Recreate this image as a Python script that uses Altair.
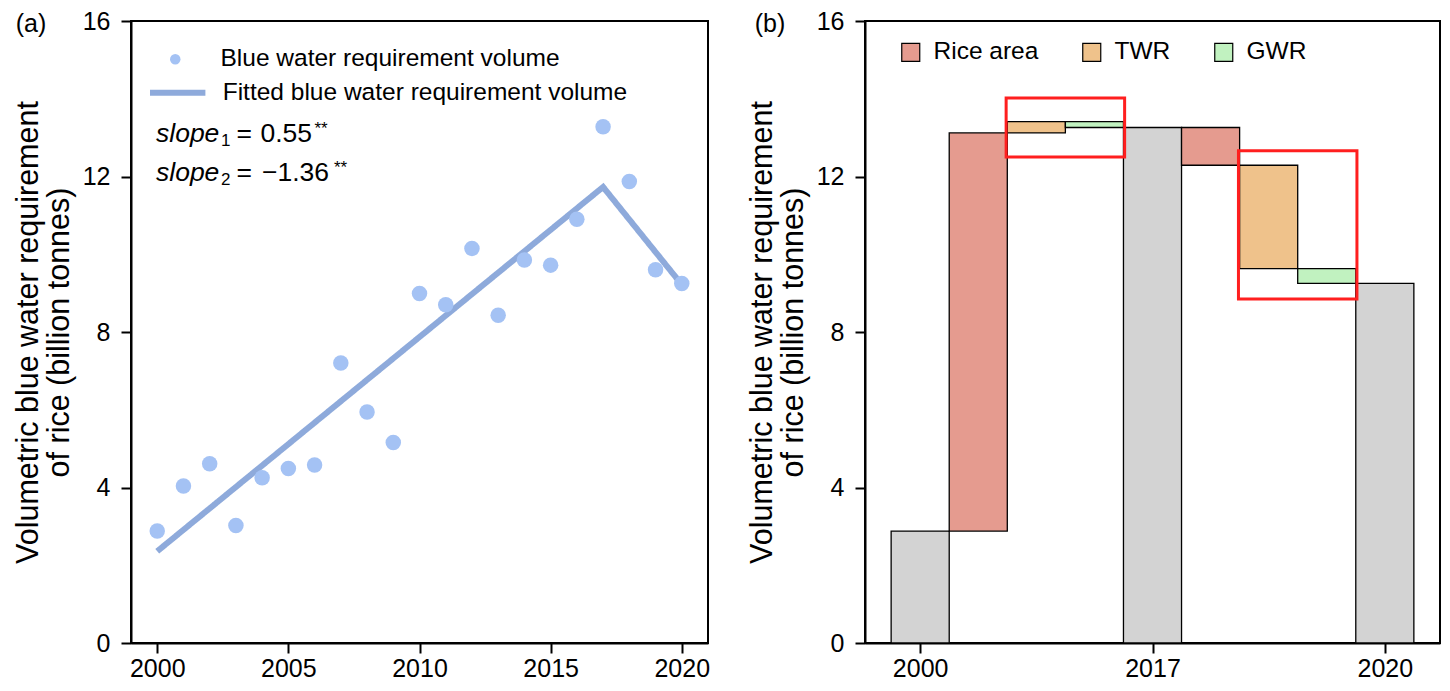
import altair as alt
import pandas as pd

FONT = "Liberation Sans"

# ---------------- data: panel (a) ----------------
years = list(range(2000, 2021))
blue_water = [2.88, 4.04, 4.61, 3.02, 4.25, 4.49, 4.58, 7.20, 5.94, 5.16, 8.99,
              8.70, 10.15, 8.43, 9.85, 9.72, 10.90, 13.28, 11.87, 9.60, 9.25]
fit_years = [2000, 2017, 2020]
fit_values = [2.36, 11.73, 9.22]
pts_label = "Blue water requirement volume"
fit_label = "Fitted blue water requirement volume"

# ---------------- data: panel (b) ----------------
step_labels = ["2000", "Rice area", "TWR", "GWR", "2017", "Rice area", "TWR", "GWR", "2020"]
step_kind = ["total", "Rice area", "TWR", "GWR", "total", "Rice area", "TWR", "GWR", "total"]
step_change = [2.88, 10.24, 0.29, -0.15, 0.0, -0.97, -2.66, -0.38, 0.0]
components = ["Rice area", "TWR", "GWR"]
component_colors = ["#e59b8f", "#efc28b", "#c1f2c0"]
total_color = "#d3d3d3"
tick_positions = [0, 4, 8]
tick_names = ["2000", "2017", "2020"]
# highlighted boxes: category index spans and value ranges
box_first = [2, 6]
box_last = [3, 7]
box_low = [12.50, 8.85]
box_high = [14.02, 12.66]

W_A, W_B, H = 577, 575, 622

df_a = pd.DataFrame({"year": years, "value": blue_water, "series": pts_label})
df_fit = pd.DataFrame({"year": fit_years, "value": fit_values, "fseries": fit_label})

rows = []
running = 0.0
for i, (lab, kind, ch) in enumerate(zip(step_labels, step_kind, step_change)):
    if kind == "total":
        running = running + ch
        lo, hi = 0.0, running
    else:
        lo, hi = running, running + ch
        running = running + ch
    rows.append({"pos": i, "x0": i - 0.5, "x1": i + 0.5, "lo": lo, "hi": hi,
                 "kind": kind, "label": lab})
df_b = pd.DataFrame(rows)
df_tot = df_b[df_b.kind == "total"]
df_comp = df_b[df_b.kind != "total"]
df_box = pd.DataFrame({"x0": [b - 0.52 for b in box_first], "x1": [b + 0.52 for b in box_last],
                       "lo": box_low, "hi": box_high})

y_title = ["Volumetric blue water requirement", "of rice (billion tonnes)"]


def txt(t, x, y, size, style="normal", baseline="alphabetic", align="left"):
    return alt.Chart(pd.DataFrame({"t": [t]})).mark_text(
        font=FONT, fontSize=size, fontStyle=style, baseline=baseline, align=align, color="black"
    ).encode(x=alt.value(x), y=alt.value(y), text="t:N")


# ---------------- panel (a) ----------------
xa = alt.X("year:Q", scale=alt.Scale(domain=[1999, 2021], nice=False),
           axis=alt.Axis(values=[2000, 2005, 2010, 2015, 2020], format="d", title=None, labelPadding=3))
ya = alt.Y("value:Q", scale=alt.Scale(domain=[0, 16], nice=False),
           axis=alt.Axis(values=[0, 4, 8, 12, 16], title=y_title, labelPadding=11))

fit_line = alt.Chart(df_fit).mark_line(color="#8eaadb", strokeWidth=6, strokeCap="butt").encode(
    x=xa, y=ya,
    strokeDash=alt.StrokeDash("fseries:N", scale=alt.Scale(domain=[fit_label], range=[[1, 0]]),
                              legend=alt.Legend(orient="none", legendX=15.7, legendY=40.7, title=None,
                                                symbolType="stroke", symbolSize=3069,
                                                symbolStrokeWidth=6, symbolStrokeColor="#8eaadb",
                                                labelFont=FONT, labelFontSize=24.5, labelOffset=14,
                                                labelColor="black", labelLimit=0)),
)
points = alt.Chart(df_a).mark_circle(size=240, opacity=1).encode(
    x=xa, y=ya,
    color=alt.Color("series:N", scale=alt.Scale(domain=[pts_label], range=["#a4c2f4"]),
                    legend=alt.Legend(orient="none", legendX=32, legendY=26, title=None,
                                      symbolType="circle", symbolSize=110, symbolOpacity=1,
                                      symbolStrokeWidth=0,
                                      labelFont=FONT, labelFontSize=24.5, labelOffset=33,
                                      labelColor="black", labelLimit=0)),
)

ann_a = [
    txt("(a)", -100, 3, 25, baseline="middle", align="center"),
    txt("slope", 25, 121, 26.5, style="italic"),
    txt("1", 90, 125, 17),
    txt("=", 105.5, 121, 26.5),
    txt("0.55", 129.5, 121, 26.5),
    txt("**", 183.5, 113, 17),
    txt("slope", 25, 160, 26.5, style="italic"),
    txt("2", 90, 164, 17),
    txt("=", 105.5, 160, 26.5),
    txt("\u22121.36", 131, 160, 26.5),
    txt("**", 203, 152, 17),
]

panel_a = alt.layer(fit_line, points, *ann_a).properties(width=W_A, height=H)

# ---------------- panel (b) ----------------
xb = alt.X("x0:Q", scale=alt.Scale(domain=[-0.95, 8.95], nice=False, zero=False),
           axis=alt.Axis(values=tick_positions, title=None, labelPadding=3,
                         labelExpr="datum.value == %d ? '%s' : datum.value == %d ? '%s' : '%s'" % (
                             tick_positions[0], tick_names[0], tick_positions[1], tick_names[1], tick_names[2])))
yb = alt.Y("lo:Q", scale=alt.Scale(domain=[0, 16], nice=False),
           axis=alt.Axis(values=[0, 4, 8, 12, 16], title=y_title, labelPadding=11))

bars_tot = alt.Chart(df_tot).mark_rect(fill=total_color, stroke="black", strokeWidth=1.3).encode(
    x=xb, x2="x1:Q", y=yb, y2="hi:Q")
bars_comp = alt.Chart(df_comp).mark_rect(stroke="black", strokeWidth=1.3, opacity=1).encode(
    x=xb, x2="x1:Q", y=yb, y2="hi:Q",
    color=alt.Color("kind:N", scale=alt.Scale(domain=components, range=component_colors),
                    legend=alt.Legend(orient="none", legendX=33.5, legendY=19, title=None,
                                      direction="horizontal", symbolType="square", symbolSize=324,
                                      symbolStrokeColor="black", symbolStrokeWidth=1.2,
                                      symbolOpacity=1, labelFont=FONT, labelFontSize=24.5,
                                      labelOffset=10.5, columnPadding=41, labelColor="black",
                                      labelLimit=0)),
)
boxes = alt.Chart(df_box).mark_rect(fillOpacity=0, stroke="#ff1f1f", strokeWidth=3).encode(
    x=xb, x2="x1:Q", y=yb, y2="hi:Q")

panel_b = alt.layer(bars_tot, bars_comp, boxes,
                    txt("(b)", -95, 3, 25, baseline="middle", align="center")
                    ).properties(width=W_B, height=H)

chart = alt.hconcat(panel_a, panel_b, spacing=35).resolve_scale(color="independent").properties(
    padding={"left": 4, "top": 0, "right": 0, "bottom": 0}
).configure_view(stroke="black", strokeWidth=2).configure_axis(
    labelFont=FONT, labelFontSize=25, labelColor="black", tickColor="black", tickSize=10,
    tickWidth=2, domainColor="black", domainWidth=2, grid=False, titleFont=FONT,
    titleFontSize=30.5, titleFontWeight="normal", titleColor="black", titleLineHeight=31,
    titlePadding=8,
)

chart.save("out.html", embed_options={"renderer": "svg", "actions": False})
